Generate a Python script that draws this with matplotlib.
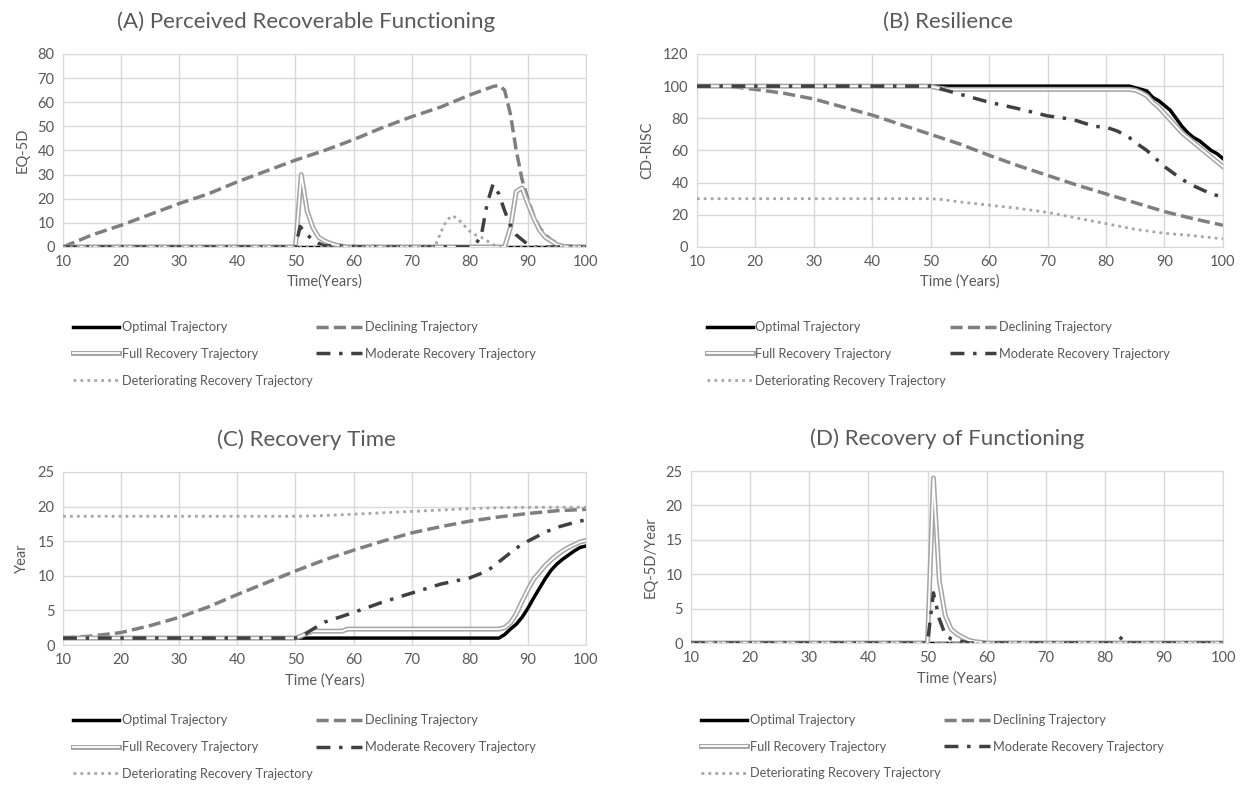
import matplotlib.pyplot as plt
import matplotlib.patheffects as pe
from matplotlib.lines import Line2D

plt.rcParams['font.family'] = ['Lato', 'DejaVu Sans']

# ---------------- data ----------------
# (A) Perceived Recoverable Functioning, EQ-5D
a_opt_x = [10, 100]
a_opt_y = [0, 0]
a_dec_x = [10, 15, 20, 25, 30, 35, 40, 45, 50, 55, 60, 65, 70, 75, 80, 84, 85, 86, 87, 88, 89, 90, 91, 92, 93, 94, 95, 96, 98, 100]
a_dec_y = [0, 5, 9, 13.5, 18, 22, 27, 31.5, 36, 40, 44.5, 49.5, 54, 58, 63, 66.5, 67, 65, 55, 40, 28, 20, 13, 8, 5, 3, 1.5, 0.5, 0.3, 0]
a_full_x = [10, 50, 51, 52, 53, 54, 55, 56, 57, 58, 59, 86, 87, 88, 89, 90, 91, 92, 93, 94, 95, 96, 97, 100]
a_full_y = [0, 0, 30, 15, 8, 4, 2.5, 1.5, 0.8, 0.3, 0, 0, 8, 23, 24.5, 18, 12, 7, 4, 2.5, 1, 0.3, 0, 0]
a_mod_x = [10, 50, 50.8, 52, 53, 54, 55, 56, 57, 58, 62, 63, 64, 80, 81, 82, 83, 84, 85, 86, 87, 88, 89, 90, 91, 100]
a_mod_y = [0, 0, 8.5, 5, 3, 1.5, 0.5, 0.5, 0.8, 0.3, 0, 0.5, 0, 0, 1, 5, 18, 26, 22, 15, 9, 5, 3, 1, 0, 0]
a_det_x = [10, 74, 75, 76, 77, 78, 79, 80, 81, 82, 83, 84, 85, 100]
a_det_y = [0, 0, 6, 11, 13, 11.5, 9, 6.5, 5, 4, 2.5, 1, 0, 0]

# (B) Resilience, CD-RISC
b_opt_x = [10, 84, 85, 86, 87, 88, 89, 90, 91, 92, 93, 94, 95, 96, 97, 98, 99, 100]
b_opt_y = [100, 100, 99, 98, 97, 93, 91, 88, 85, 80, 75, 71, 68, 66, 63, 60, 58, 55]
b_dec_x = [10, 15, 20, 25, 30, 35, 40, 45, 50, 55, 60, 65, 70, 75, 80, 85, 90, 95, 100]
b_dec_y = [100, 100, 98, 95.5, 92, 87, 82, 76, 70, 64, 57, 50.5, 44.5, 38.5, 33, 27.5, 22, 17.5, 13.5]
b_full_x = [10, 50, 51, 52, 53, 84, 85, 86, 87, 88, 89, 90, 91, 92, 93, 94, 95, 96, 97, 98, 99, 100]
b_full_y = [100, 100, 99, 98.5, 98, 98, 97.5, 96, 94, 90, 87, 83, 79, 75, 71, 68, 65, 62, 59, 56, 53, 50]
b_mod_x = [10, 50, 52, 55, 60, 65, 70, 73, 75, 78, 80, 82, 84, 85, 87, 90, 93, 95, 98, 100]
b_mod_y = [100, 100, 98, 95, 90, 86, 81.5, 80, 78.5, 75, 74.5, 72, 68, 65, 60, 50, 42, 38, 33, 31]
b_det_x = [10, 50, 52, 55, 60, 65, 70, 75, 80, 85, 90, 95, 100]
b_det_y = [30, 30, 29.5, 28, 26, 24, 21.5, 18, 14.5, 11, 8.5, 7, 5]

# (C) Recovery Time, Year
c_opt_x = [10, 85, 86, 87, 88, 89, 90, 91, 92, 93, 94, 95, 96, 97, 98, 99, 100]
c_opt_y = [1, 1, 1.5, 2.3, 3, 4, 5.3, 6.8, 8.2, 9.6, 10.8, 11.7, 12.4, 13, 13.6, 14.1, 14.3]
c_dec_x = [10, 15, 20, 25, 30, 35, 40, 45, 50, 55, 60, 65, 70, 75, 80, 85, 90, 95, 100]
c_dec_y = [1, 1.3, 1.8, 2.8, 4, 5.5, 7.3, 9, 10.7, 12.3, 13.7, 15, 16.2, 17.1, 17.9, 18.5, 19, 19.4, 19.6]
c_full_x = [10, 50, 51, 52, 53, 58, 59, 85, 86, 87, 88, 89, 90, 91, 92, 93, 94, 95, 96, 97, 98, 99, 100]
c_full_y = [1, 1, 1.3, 1.7, 2, 2, 2.3, 2.3, 2.5, 3.2, 4.5, 6.3, 8, 9.5, 10.5, 11.5, 12.3, 13, 13.6, 14.1, 14.5, 14.9, 15.1]
c_mod_x = [10, 50, 51, 53, 55, 60, 65, 70, 75, 80, 83, 85, 88, 90, 93, 95, 98, 100]
c_mod_y = [1, 1, 1.2, 2.3, 3.3, 4.7, 6.2, 7.5, 8.8, 9.7, 10.7, 12, 14, 15, 16.3, 17, 17.7, 18.1]
c_det_x = [10, 50, 55, 60, 65, 70, 75, 80, 85, 90, 100]
c_det_y = [18.6, 18.6, 18.7, 18.9, 19.1, 19.3, 19.5, 19.7, 19.85, 19.9, 19.9]

# (D) Recovery of Functioning, EQ-5D/Year
d_opt_x = [10, 100]
d_opt_y = [0, 0]
d_dec_x = [10, 100]
d_dec_y = [0, 0]
d_full_x = [10, 50, 50.5, 51, 52, 53, 54, 55, 56, 57, 58, 59, 60, 100]
d_full_y = [0, 0, 12, 24, 9, 4, 2, 1.3, 0.8, 0.4, 0.2, 0.1, 0, 0]
d_mod_x = [10, 50, 51, 52, 53, 54, 55, 56, 57, 82, 83, 84, 100]
d_mod_y = [0, 0, 7.3, 3.5, 1.2, 0.6, 0.4, 0.2, 0, 0, 1, 0, 0]
d_det_x = [10, 100]
d_det_y = [0, 0]

labels = ['Optimal Trajectory', 'Declining Trajectory', 'Full Recovery Trajectory',
          'Moderate Recovery Trajectory', 'Deteriorating Recovery Trajectory']

txt = '#595959'
grid = '#d9d9d9'

# line styles: Excel-like
st_opt = dict(color='black', lw=2.5)
st_dec = dict(color='#7f7f7f', lw=2.5, dashes=(3.5, 1.5))
st_full = dict(color='white', lw=1.3,
               path_effects=[pe.Stroke(linewidth=3.6, foreground='#a6a6a6'), pe.Normal()])
st_mod = dict(color='#404040', lw=2.5, dashes=(4, 2.5, 1, 2.5))
st_det = dict(color='#a6a6a6', lw=2, dashes=(1, 1.5))

fig = plt.figure(figsize=(12.51, 7.89), dpi=100)

panels = [
    # rect, title, title x, ylabel, xlabel, ymax, ystep, legend offset, data
    ([0.0504, 0.687, 0.418, 0.2446], '(A) Perceived Recoverable Functioning', 0.245, 'EQ-5D', 'Time(Years)', 80, 10, 0.094,
     [(a_opt_x, a_opt_y), (a_dec_x, a_dec_y), (a_full_x, a_full_y), (a_mod_x, a_mod_y), (a_det_x, a_det_y)]),
    ([0.557, 0.687, 0.4205, 0.2446], '(B) Resilience', 0.758, 'CD-RISC', 'Time (Years)', 120, 20, 0.094,
     [(b_opt_x, b_opt_y), (b_dec_x, b_dec_y), (b_full_x, b_full_y), (b_mod_x, b_mod_y), (b_det_x, b_det_y)]),
    ([0.0504, 0.1825, 0.418, 0.2193], '(C) Recovery Time', 0.245, 'Year', 'Time (Years)', 25, 5, 0.088,
     [(c_opt_x, c_opt_y), (c_dec_x, c_dec_y), (c_full_x, c_full_y), (c_mod_x, c_mod_y), (c_det_x, c_det_y)]),
    ([0.5524, 0.185, 0.4253, 0.218], '(D) Recovery of Functioning', 0.757, 'EQ-5D/Year', 'Time (Years)', 25, 5, 0.090,
     [(d_opt_x, d_opt_y), (d_dec_x, d_dec_y), (d_full_x, d_full_y), (d_mod_x, d_mod_y), (d_det_x, d_det_y)]),
]

for rect, title, tx_pos, ylab, xlab, ymax, ystep, loff, data in panels:
    ax = fig.add_axes(rect)
    (ox, oy), (dx, dy), (fx, fy), (mx, my), (tx, ty) = data
    ax.plot(ox, oy, zorder=3, **st_opt)
    ax.plot(dx, dy, zorder=4, **st_dec)
    ax.plot(fx, fy, zorder=5, **st_full)
    ax.plot(mx, my, zorder=6, **st_mod)
    ax.plot(tx, ty, zorder=7, **st_det)

    ax.set_xlim(10, 100)
    ax.set_ylim(0, ymax)
    ax.set_xticks(range(10, 101, 10))
    ax.set_yticks(range(0, ymax + 1, ystep))
    ax.grid(True, color=grid, lw=1)
    ax.set_axisbelow(True)
    for s in ax.spines.values():
        s.set_color(grid)
    ax.tick_params(length=0, labelsize=10.5, labelcolor=txt, pad=6)
    ax.set_xlabel(xlab, fontsize=10.5, color=txt, labelpad=4)
    ax.set_ylabel(ylab, fontsize=10.5, color=txt, labelpad=6)

    top = rect[1] + rect[3]
    fig.text(tx_pos, top + 0.041, title, ha='center', va='center', fontsize=16, color=txt)

    # legend, Excel order: row by row
    handles = [Line2D([], [], **st_opt), Line2D([], [], **st_full), Line2D([], [], **st_det),
               Line2D([], [], **st_dec), Line2D([], [], **st_mod)]
    labs = [labels[0], labels[2], labels[4], labels[1], labels[3]]
    leg = fig.legend(handles, labs, ncol=2, loc='upper left',
                     bbox_to_anchor=(rect[0] + 0.008, rect[1] - loff),
                     frameon=False, fontsize=9.2, handlelength=3.6,
                     handletextpad=0.2, columnspacing=0.3, labelspacing=1.15,
                     borderpad=0, borderaxespad=0)
    for t in leg.get_texts():
        t.set_color(txt)

fig.savefig('out.png', dpi=100, facecolor='white')
